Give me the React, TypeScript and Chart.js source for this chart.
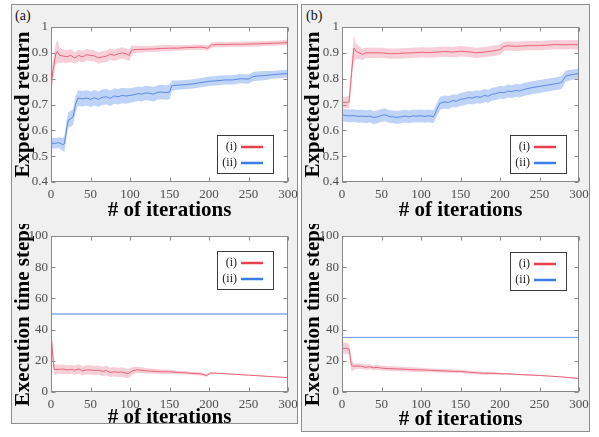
import React, { useEffect, useRef } from 'react';
import { Chart, registerables } from 'chart.js';
Chart.register(...registerables);

// ---------- data ----------
const xTickLabels = ['0', '50', '100', '150', '200', '250', '300'];
const returnTickLabels = ['0.4', '0.5', '0.6', '0.7', '0.8', '0.9', '1'];
const stepTickLabels = ['0', '20', '40', '60', '80', '100'];
const legendLabels = ['(i)', '(ii)'];

type Pt = [number, number, number]; // [iteration, mean, half-width of band]

const aReturnI: Pt[] = [
  [0, 0.775, 0.045], [3, 0.84, 0.04], [6, 0.895, 0.04], [8, 0.905, 0.045], [11, 0.89, 0.03],
  [15, 0.888, 0.025], [20, 0.885, 0.025], [25, 0.89, 0.025], [30, 0.88, 0.022], [35, 0.89, 0.022],
  [40, 0.884, 0.022], [45, 0.893, 0.022], [50, 0.89, 0.022], [55, 0.888, 0.022], [60, 0.88, 0.022],
  [65, 0.884, 0.022], [70, 0.887, 0.022], [75, 0.895, 0.022], [80, 0.89, 0.022], [85, 0.896, 0.022],
  [90, 0.9, 0.022], [95, 0.896, 0.022], [99, 0.89, 0.022], [102, 0.91, 0.02], [105, 0.912, 0.015],
  [110, 0.913, 0.013], [120, 0.914, 0.012], [130, 0.915, 0.012], [140, 0.917, 0.012], [150, 0.918, 0.012],
  [160, 0.918, 0.01], [170, 0.92, 0.01], [180, 0.921, 0.01], [190, 0.922, 0.01], [198, 0.918, 0.01],
  [203, 0.93, 0.01], [210, 0.932, 0.01], [220, 0.932, 0.01], [230, 0.933, 0.01], [240, 0.933, 0.01],
  [250, 0.934, 0.01], [260, 0.935, 0.01], [270, 0.936, 0.01], [280, 0.937, 0.01], [290, 0.938, 0.01],
  [300, 0.94, 0.012],
];

const aReturnII: Pt[] = [
  [0, 0.55, 0.02], [5, 0.55, 0.02], [10, 0.552, 0.02], [15, 0.545, 0.025], [17, 0.548, 0.03],
  [20, 0.61, 0.03], [22, 0.64, 0.03], [25, 0.645, 0.03], [28, 0.652, 0.03], [31, 0.7, 0.03],
  [34, 0.725, 0.03], [40, 0.722, 0.03], [45, 0.725, 0.03], [50, 0.72, 0.03], [55, 0.726, 0.03],
  [60, 0.72, 0.03], [65, 0.728, 0.03], [70, 0.73, 0.03], [75, 0.724, 0.03], [80, 0.733, 0.03],
  [85, 0.73, 0.03], [90, 0.735, 0.03], [95, 0.733, 0.03], [100, 0.735, 0.028], [105, 0.738, 0.028],
  [110, 0.742, 0.028], [115, 0.74, 0.028], [120, 0.745, 0.028], [125, 0.743, 0.028], [130, 0.74, 0.028],
  [135, 0.747, 0.028], [140, 0.748, 0.028], [145, 0.746, 0.028], [150, 0.748, 0.028], [153, 0.773, 0.02],
  [160, 0.775, 0.018], [170, 0.777, 0.018], [180, 0.78, 0.018], [190, 0.785, 0.018], [200, 0.79, 0.018],
  [210, 0.792, 0.018], [220, 0.795, 0.018], [230, 0.795, 0.018], [240, 0.8, 0.018], [250, 0.798, 0.018],
  [255, 0.807, 0.018], [260, 0.81, 0.018], [270, 0.812, 0.018], [280, 0.815, 0.015], [290, 0.818, 0.015],
  [300, 0.82, 0.015],
];

const bReturnI: Pt[] = [
  [0, 0.708, 0.022], [5, 0.708, 0.022], [9, 0.71, 0.025], [12, 0.82, 0.04], [15, 0.918, 0.05],
  [18, 0.905, 0.03], [22, 0.9, 0.025], [26, 0.894, 0.022], [30, 0.9, 0.02], [40, 0.9, 0.02],
  [50, 0.9, 0.02], [60, 0.897, 0.02], [70, 0.897, 0.02], [80, 0.899, 0.02], [90, 0.9, 0.02],
  [100, 0.902, 0.02], [110, 0.901, 0.02], [120, 0.903, 0.02], [130, 0.905, 0.02], [140, 0.903, 0.02],
  [150, 0.906, 0.02], [160, 0.904, 0.02], [170, 0.9, 0.02], [180, 0.903, 0.02], [190, 0.907, 0.02],
  [200, 0.912, 0.02], [205, 0.925, 0.018], [210, 0.927, 0.018], [220, 0.925, 0.018], [230, 0.927, 0.018],
  [240, 0.928, 0.018], [250, 0.928, 0.018], [260, 0.93, 0.018], [270, 0.932, 0.018], [280, 0.931, 0.018],
  [290, 0.932, 0.018], [300, 0.931, 0.018],
];

const bReturnII: Pt[] = [
  [0, 0.66, 0.025], [5, 0.657, 0.025], [10, 0.656, 0.025], [15, 0.657, 0.025], [20, 0.654, 0.025],
  [25, 0.655, 0.025], [30, 0.653, 0.025], [35, 0.655, 0.025], [40, 0.65, 0.025], [45, 0.652, 0.025],
  [50, 0.658, 0.025], [55, 0.66, 0.025], [60, 0.653, 0.025], [65, 0.652, 0.025], [70, 0.65, 0.025],
  [75, 0.653, 0.025], [80, 0.655, 0.025], [85, 0.652, 0.025], [90, 0.656, 0.025], [95, 0.655, 0.025],
  [100, 0.656, 0.025], [105, 0.654, 0.025], [110, 0.656, 0.025], [116, 0.653, 0.025], [120, 0.68, 0.025],
  [124, 0.705, 0.025], [130, 0.71, 0.025], [135, 0.708, 0.025], [140, 0.715, 0.025], [145, 0.713, 0.025],
  [150, 0.72, 0.025], [155, 0.722, 0.025], [160, 0.727, 0.025], [165, 0.725, 0.025], [170, 0.73, 0.025],
  [175, 0.728, 0.025], [180, 0.735, 0.025], [185, 0.732, 0.025], [190, 0.74, 0.025], [195, 0.742, 0.025],
  [200, 0.748, 0.025], [205, 0.745, 0.025], [210, 0.752, 0.025], [215, 0.75, 0.025], [220, 0.755, 0.025],
  [225, 0.752, 0.025], [230, 0.758, 0.025], [240, 0.765, 0.025], [250, 0.77, 0.025], [260, 0.775, 0.025],
  [270, 0.78, 0.025], [278, 0.785, 0.025], [283, 0.81, 0.022], [290, 0.815, 0.02], [300, 0.82, 0.018],
];

const aStepsI: Pt[] = [
  [0, 37, 8], [2, 25, 6], [4, 14.5, 3.5], [10, 14.5, 3], [15, 14.7, 3], [20, 14.2, 3], [25, 14.5, 3],
  [30, 14, 3], [35, 14.8, 3], [40, 13.5, 3], [45, 14.2, 3], [50, 14.2, 3], [55, 13.8, 3], [60, 14, 3],
  [65, 13.2, 3], [70, 13.8, 3], [75, 12.5, 3], [80, 13, 3], [85, 12.6, 3], [90, 12.8, 3], [95, 12, 3],
  [98, 11.8, 3], [103, 13.5, 2.5], [108, 14.2, 2], [115, 14, 1.8], [120, 13.6, 1.8], [130, 13.3, 1.6],
  [140, 13, 1.5], [150, 13, 1.4], [160, 12.5, 1.2], [170, 12.3, 1.1], [180, 11.9, 1], [190, 11.6, 1],
  [197, 10.6, 1], [202, 12.2, 0.5], [210, 12, 0.3], [250, 10.8, 0.3], [300, 9.2, 0.3],
];
const aStepsII: Pt[] = [[0, 50, 0], [300, 50, 0]];

const bStepsI: Pt[] = [
  [0, 28, 3.5], [5, 28, 3.5], [9, 27.5, 3.5], [12, 17, 4], [15, 16.5, 2], [20, 16.7, 1.8], [25, 16.5, 1.8],
  [30, 15.8, 1.6], [35, 16.2, 1.6], [40, 15.5, 1.5], [45, 15.8, 1.5], [50, 15.3, 1.5], [60, 15, 1.5],
  [70, 14.8, 1.5], [80, 14.6, 1.5], [90, 14.3, 1.5], [100, 14.2, 1.4], [110, 14, 1.3], [120, 13.7, 1.2],
  [130, 13.5, 1.2], [140, 13.3, 1.1], [150, 13.2, 1], [160, 12.7, 1], [170, 12.3, 1], [180, 12, 0.9],
  [190, 12, 0.8], [200, 11.7, 0.6], [210, 11.6, 0.5], [220, 11.3, 0.4], [250, 10.6, 0.3], [275, 9.8, 0.3],
  [300, 8.7, 0.3],
];
const bStepsII: Pt[] = [[0, 35, 0], [300, 35, 0]];

// ---------- styles ----------
const SERIF = "'Liberation Serif', 'DejaVu Serif', serif";
const RED_LINE = 'rgb(234,100,118)';
const RED_BAND = 'rgba(230,110,140,0.33)';
const BLUE_LINE = 'rgb(88,138,230)';
const BLUE_BAND = 'rgba(100,150,235,0.42)';
const LEGEND_COLORS = ['#e8404e', '#3b7de8'];
const TICK_COLOR = '#4d4d4d';

interface Series { pts: Pt[]; line: string; band: string; width: number; }

function buildDatasets(series: Series[]) {
  const bands: any[] = [];
  const lines: any[] = [];
  series.forEach((s) => {
    if (s.pts.some((p) => p[2] > 0)) {
      bands.push({
        data: s.pts.map((p) => ({ x: p[0], y: p[1] + p[2] })),
        borderWidth: 0, borderColor: 'rgba(0,0,0,0)', pointRadius: 0, fill: false,
      });
      bands.push({
        data: s.pts.map((p) => ({ x: p[0], y: p[1] - p[2] })),
        borderWidth: 0, borderColor: 'rgba(0,0,0,0)', pointRadius: 0, fill: '-1', backgroundColor: s.band,
      });
    }
    lines.push({
      data: s.pts.map((p) => ({ x: p[0], y: p[1] })),
      borderColor: s.line, borderWidth: s.width, pointRadius: 0, fill: false,
    });
  });
  return [...bands, ...lines];
}

const framePlugin = {
  id: 'frame',
  beforeDraw(chart: any) {
    const { ctx, chartArea: a } = chart;
    ctx.save();
    ctx.fillStyle = '#ffffff';
    ctx.fillRect(a.left, a.top, a.right - a.left, a.bottom - a.top);
    ctx.restore();
  },
  afterDatasetsDraw(chart: any, _args: any, opts: any) {
    const { ctx, chartArea: a, scales } = chart;
    ctx.save();
    ctx.strokeStyle = '#8a8a8a';
    ctx.lineWidth = 1;
    const L = Math.round(a.left) + 0.5, R = Math.round(a.right) - 0.5;
    const T = Math.round(a.top) + 0.5, B = Math.round(a.bottom) - 0.5;
    ctx.strokeRect(L, T, R - L, B - T);
    const tl = 4;
    ctx.beginPath();
    scales.x.ticks.forEach((t: any) => {
      const px = Math.round(scales.x.getPixelForValue(t.value)) + 0.5;
      ctx.moveTo(px, B); ctx.lineTo(px, B - tl);
      ctx.moveTo(px, T); ctx.lineTo(px, T + tl);
    });
    scales.y.ticks.forEach((t: any) => {
      const py = Math.round(scales.y.getPixelForValue(t.value)) + 0.5;
      ctx.moveTo(L, py); ctx.lineTo(L + tl, py);
      ctx.moveTo(R, py); ctx.lineTo(R - tl, py);
    });
    ctx.stroke();

    // legend box
    const lg = opts.legend;
    if (lg) {
      const lw = 56, lh = 38;
      const right = Math.round(a.right - lg.dx);
      const left = right - lw;
      const top = Math.round(lg.anchor === 'bottom' ? a.bottom - lg.dy - lh : a.top + lg.dy);
      ctx.fillStyle = '#ffffff';
      ctx.fillRect(left, top, lw, lh);
      ctx.strokeStyle = '#3a3a3a';
      ctx.lineWidth = 1;
      ctx.strokeRect(left + 0.5, top + 0.5, lw, lh);
      lg.items.forEach((it: any, i: number) => {
        const y = top + 12 + i * 16;
        ctx.font = `12px ${SERIF}`;
        ctx.textAlign = 'right';
        ctx.textBaseline = 'middle';
        ctx.fillStyle = '#222';
        ctx.fillText(it.label, left + 20, y);
        ctx.strokeStyle = it.color;
        ctx.lineWidth = 2.5;
        ctx.beginPath();
        ctx.moveTo(left + 24, y);
        ctx.lineTo(left + 46, y);
        ctx.stroke();
      });
    }
    ctx.restore();
  },
};

interface SubProps {
  left: number; top: number; width: number; height: number;
  padTop: number; padRight: number; yWidth: number; xHeight: number; titlePadBottom: number;
  series: Series[]; yMin: number; yMax: number; yLabels: string[]; yTitle: string;
  legendAnchor: 'top' | 'bottom'; legendDx: number; legendDy: number;
}

function Subplot(p: SubProps) {
  const ref = useRef<HTMLCanvasElement | null>(null);
  useEffect(() => {
    if (!ref.current) return;
    const tickFont = { family: SERIF, size: 13 };
    const titleFont = { family: SERIF, size: 21, weight: 'bold' as const, lineHeight: 1.2 };
    const chart = new Chart(ref.current, {
      type: 'line',
      data: { datasets: buildDatasets(p.series) },
      options: {
        animation: false,
        responsive: false,
        events: [],
        layout: { padding: { top: p.padTop, right: p.padRight, left: 0, bottom: 0 } },
        plugins: {
          legend: { display: false },
          tooltip: { enabled: false },
          filler: { drawTime: 'beforeDatasetsDraw' },
          frame: {
            legend: {
              anchor: p.legendAnchor, dx: p.legendDx, dy: p.legendDy,
              items: legendLabels.map((l, i) => ({ label: l, color: LEGEND_COLORS[i] })),
            },
          },
        } as any,
        scales: {
          x: {
            type: 'linear', min: 0, max: 300,
            grid: { display: false, drawTicks: false },
            border: { display: false },
            afterBuildTicks: (s: any) => { s.ticks = xTickLabels.map((l) => ({ value: parseFloat(l) })); },
            ticks: {
              padding: 5, font: tickFont, color: TICK_COLOR, maxRotation: 0, autoSkip: false,
              callback: (_v: any, i: number) => xTickLabels[i],
            },
            title: { display: true, text: '# of iterations', font: titleFont, color: '#000', padding: { top: 0, bottom: p.titlePadBottom } },
            afterFit: (s: any) => { s.height = p.xHeight; s.paddingLeft = 0; s.paddingRight = 0; },
          },
          y: {
            type: 'linear', min: p.yMin, max: p.yMax,
            grid: { display: false, drawTicks: false },
            border: { display: false },
            afterBuildTicks: (s: any) => { s.ticks = p.yLabels.map((l) => ({ value: parseFloat(l) })); },
            ticks: {
              padding: 3, font: tickFont, color: TICK_COLOR, autoSkip: false,
              callback: (_v: any, i: number) => p.yLabels[i],
            },
            title: { display: true, text: p.yTitle, font: titleFont, color: '#000', padding: { top: 0, bottom: 0 } },
            afterFit: (s: any) => { s.width = p.yWidth; s.paddingTop = 0; s.paddingBottom = 0; },
          },
        } as any,
      },
      plugins: [framePlugin as any],
    });
    return () => chart.destroy();
  }, []);
  return (
    <canvas
      ref={ref}
      width={p.width}
      height={p.height}
      style={{ position: 'absolute', left: p.left, top: p.top, width: p.width, height: p.height, display: 'block' }}
    />
  );
}

const topSeries = (i: Pt[], ii: Pt[]): Series[] => [
  { pts: ii, line: BLUE_LINE, band: BLUE_BAND, width: 1 },
  { pts: i, line: RED_LINE, band: RED_BAND, width: 1 },
];

export default function App() {
  const panelStyle = (left: number, width: number, height: number): React.CSSProperties => ({
    position: 'absolute', left, top: 4, width, height, background: '#f0f0f0',
    border: '1px solid #8e8e8e', boxSizing: 'border-box',
  });
  const labelStyle = (left: number): React.CSSProperties => ({
    position: 'absolute', left, top: 9, fontFamily: SERIF, fontSize: 14, lineHeight: '14px', color: '#111',
  });
  return (
    <div style={{ position: 'absolute', left: 0, top: 0, width: 599, height: 437, background: '#fff', overflow: 'hidden' }}>
      <div style={panelStyle(11, 287, 420)} />
      <div style={panelStyle(301, 289, 428)} />
      <div style={labelStyle(15)}>(a)</div>
      <div style={labelStyle(306)}>(b)</div>

      <Subplot left={11} top={4} width={287} height={220} padTop={23} padRight={10} yWidth={40} xHeight={42} titlePadBottom={1}
        series={topSeries(aReturnI, aReturnII)} yMin={0.4} yMax={1} yLabels={returnTickLabels} yTitle="Expected return"
        legendAnchor="bottom" legendDx={15} legendDy={9} />
      <Subplot left={301} top={4} width={289} height={220} padTop={23} padRight={11} yWidth={41} xHeight={42} titlePadBottom={1}
        series={topSeries(bReturnI, bReturnII)} yMin={0.4} yMax={1} yLabels={returnTickLabels} yTitle="Expected return"
        legendAnchor="bottom" legendDx={13} legendDy={9} />
      <Subplot left={11} top={224} width={287} height={206} padTop={12} padRight={10} yWidth={40} xHeight={38} titlePadBottom={0}
        series={[
          { pts: aStepsII, line: 'rgb(160,192,240)', band: BLUE_BAND, width: 2 },
          { pts: aStepsI, line: RED_LINE, band: RED_BAND, width: 1 },
        ]}
        yMin={0} yMax={100} yLabels={stepTickLabels} yTitle="Execution time steps"
        legendAnchor="top" legendDx={15} legendDy={15} />
      <Subplot left={301} top={224} width={289} height={208} padTop={12} padRight={11} yWidth={41} xHeight={40} titlePadBottom={0}
        series={[
          { pts: bStepsII, line: 'rgb(100,150,235)', band: BLUE_BAND, width: 1 },
          { pts: bStepsI, line: RED_LINE, band: RED_BAND, width: 1 },
        ]}
        yMin={0} yMax={100} yLabels={stepTickLabels} yTitle="Execution time steps"
        legendAnchor="top" legendDx={13} legendDy={16} />
    </div>
  );
}
